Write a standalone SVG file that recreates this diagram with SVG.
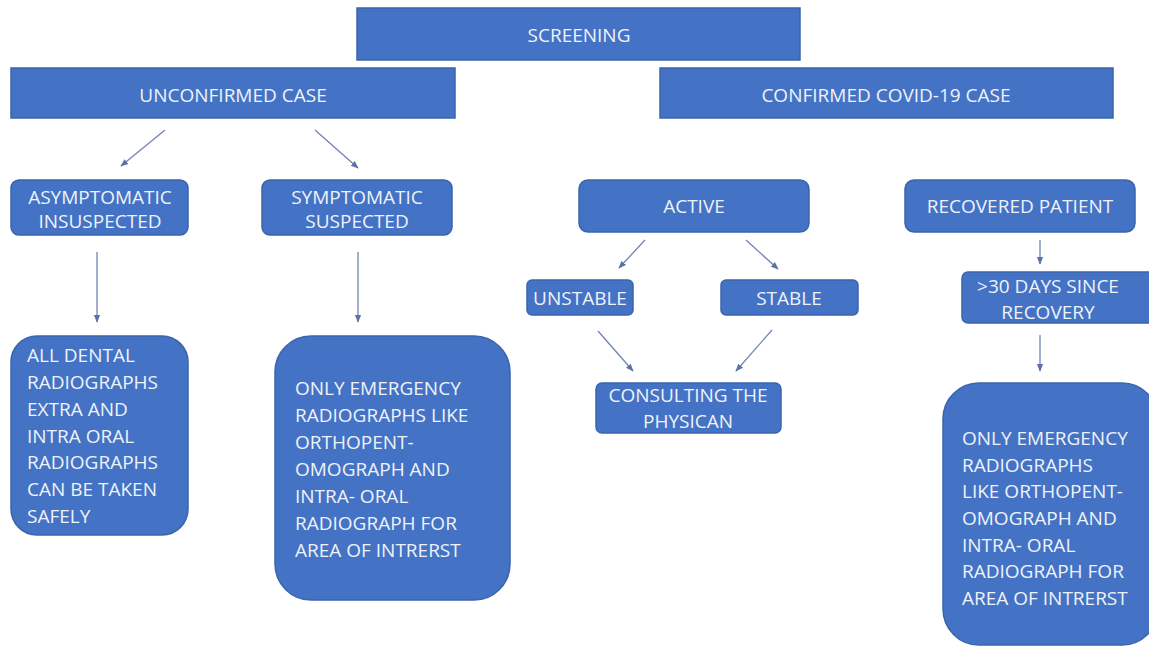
<svg xmlns="http://www.w3.org/2000/svg" width="1149" height="646" viewBox="0 0 1149 646">
<defs>
<style>
.box{fill:#4472C4;stroke:#3A64AD;stroke-width:1.5}
.t{font-family:"Open Sans","Liberation Sans",sans-serif;font-size:19px;fill:#EEF2FA;text-anchor:middle}
.tl{font-family:"Open Sans","Liberation Sans",sans-serif;font-size:19px;fill:#EEF2FA}
.c{stroke:#7085B3;stroke-width:1.3;fill:none;marker-end:url(#ah)}
</style>
<marker id="ah" viewBox="0 0 10 10" refX="9" refY="5" markerWidth="6" markerHeight="6" orient="auto">
<path d="M0,1 L10,5 L0,9 z" fill="#5A72A6"/>
</marker>
</defs>
<rect width="1149" height="646" fill="#ffffff"/>
<g id="connectors">
<line class="c" x1="165" y1="130" x2="121" y2="166"/>
<line class="c" x1="315" y1="130" x2="358" y2="168"/>
<line class="c" x1="97" y1="252" x2="97" y2="322"/>
<line class="c" x1="358" y1="252" x2="358" y2="322"/>
<line class="c" x1="645" y1="240" x2="619" y2="268"/>
<line class="c" x1="746" y1="240" x2="778" y2="269"/>
<line class="c" x1="598" y1="331" x2="633" y2="371"/>
<line class="c" x1="772" y1="330" x2="736" y2="371"/>
<line class="c" x1="1040" y1="240" x2="1040" y2="264"/>
<line class="c" x1="1040" y1="335" x2="1040" y2="371"/>
</g>
<g id="screening">
<rect class="box" x="357" y="8" width="443" height="52"/>
<text class="t" x="579" y="42">SCREENING</text>
</g>
<g id="unconfirmed">
<rect class="box" x="11" y="68" width="444" height="50"/>
<text class="t" x="233" y="102">UNCONFIRMED CASE</text>
</g>
<g id="confirmed">
<rect class="box" x="660" y="68" width="453" height="50"/>
<text class="t" x="886" y="102">CONFIRMED COVID-19 CASE</text>
</g>
<g id="asymptomatic">
<rect class="box" x="11" y="180" width="177" height="55" rx="8"/>
<text class="t" x="100" y="204">ASYMPTOMATIC</text>
<text class="t" x="100" y="228">INSUSPECTED</text>
</g>
<g id="symptomatic">
<rect class="box" x="262" y="180" width="190" height="55" rx="8"/>
<text class="t" x="357" y="204">SYMPTOMATIC</text>
<text class="t" x="357" y="228">SUSPECTED</text>
</g>
<g id="active">
<rect class="box" x="579" y="180" width="230" height="52" rx="9"/>
<text class="t" x="694" y="213">ACTIVE</text>
</g>
<g id="recovered">
<rect class="box" x="905" y="180" width="230" height="52" rx="9"/>
<text class="t" x="1020" y="213">RECOVERED PATIENT</text>
</g>
<g id="unstable">
<rect class="box" x="527" y="280" width="106" height="35" rx="5"/>
<text class="t" x="580" y="305">UNSTABLE</text>
</g>
<g id="stable">
<rect class="box" x="721" y="280" width="137" height="35" rx="5"/>
<text class="t" x="789" y="305">STABLE</text>
</g>
<g id="consulting">
<rect class="box" x="596" y="383" width="185" height="50" rx="6"/>
<text class="t" x="688" y="402">CONSULTING THE</text>
<text class="t" x="688" y="428">PHYSICAN</text>
</g>
<g id="days30">
<rect class="box" x="962" y="272" width="195" height="51" rx="6"/>
<text class="t" x="1048" y="293">&gt;30 DAYS SINCE</text>
<text class="t" x="1048" y="319">RECOVERY</text>
</g>
<g id="all-dental">
<rect class="box" x="11" y="336" width="177" height="199" rx="26"/>
<text class="tl" x="27" y="362">ALL DENTAL</text>
<text class="tl" x="27" y="389">RADIOGRAPHS</text>
<text class="tl" x="27" y="416">EXTRA AND</text>
<text class="tl" x="27" y="443">INTRA ORAL</text>
<text class="tl" x="27" y="469">RADIOGRAPHS</text>
<text class="tl" x="27" y="496">CAN BE TAKEN</text>
<text class="tl" x="27" y="523">SAFELY</text>
</g>
<g id="emergency-left">
<rect class="box" x="275" y="336" width="235" height="264" rx="36"/>
<text class="tl" x="295" y="395">ONLY EMERGENCY</text>
<text class="tl" x="295" y="422">RADIOGRAPHS LIKE</text>
<text class="tl" x="295" y="449">ORTHOPENT-</text>
<text class="tl" x="295" y="476">OMOGRAPH AND</text>
<text class="tl" x="295" y="503">INTRA- ORAL</text>
<text class="tl" x="295" y="530">RADIOGRAPH FOR</text>
<text class="tl" x="295" y="557">AREA OF INTRERST</text>
</g>
<g id="emergency-right">
<rect class="box" x="943" y="383" width="215" height="262" rx="36"/>
<text class="tl" x="962" y="445">ONLY EMERGENCY</text>
<text class="tl" x="962" y="472">RADIOGRAPHS</text>
<text class="tl" x="962" y="498">LIKE ORTHOPENT-</text>
<text class="tl" x="962" y="525">OMOGRAPH AND</text>
<text class="tl" x="962" y="552">INTRA- ORAL</text>
<text class="tl" x="962" y="578">RADIOGRAPH FOR</text>
<text class="tl" x="962" y="605">AREA OF INTRERST</text>
</g>
</svg>
